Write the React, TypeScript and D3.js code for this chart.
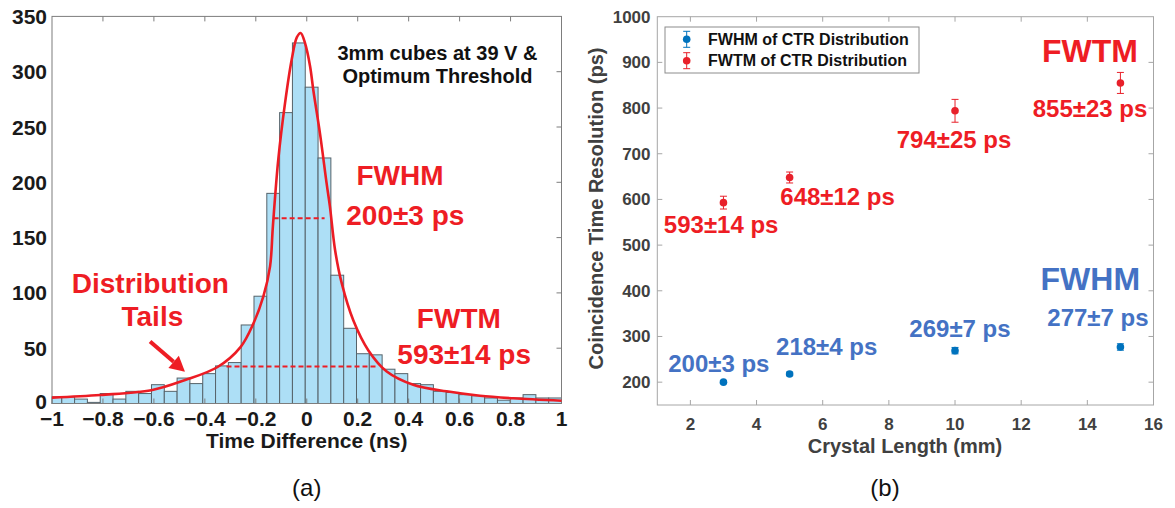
import React from "react";
import * as d3 from "d3";

// ---------- (a) timing histogram ----------
const histCounts = [
  6, 6, 4, 1, 9, 4, 11, 9, 17, 11, 23, 18, 27, 34, 37, 71, 97, 190, 263, 326,
  286, 222, 116, 68, 45, 44, 31, 27, 18, 17, 11, 10, 8, 7, 5, 3, 5, 8, 5, 5,
];
const binStart = -1.0119;
const binWidth = 0.0503;

// fitted distribution (time in ns, counts)
const fitCurve: [number, number][] = [
  [-1.0, 5.3], [-0.81, 7.7], [-0.61, 12], [-0.48, 21], [-0.35, 33],
  [-0.26, 51], [-0.21, 72], [-0.17, 97], [-0.144, 124], [-0.133, 160],
  [-0.112, 220], [-0.085, 272], [-0.059, 311], [-0.039, 331], [-0.024, 335],
  [-0.007, 326], [0.013, 305], [0.026, 283], [0.052, 244], [0.078, 199],
  [0.091, 178], [0.111, 139], [0.137, 109], [0.183, 75], [0.242, 48],
  [0.314, 29], [0.418, 17], [0.549, 11], [0.68, 7], [0.811, 4.7], [1.0, 2.5],
];

const xTicksA = [-1, -0.8, -0.6, -0.4, -0.2, 0, 0.2, 0.4, 0.6, 0.8, 1];
const yTicksA = [0, 50, 100, 150, 200, 250, 300, 350];

// full width at half / tenth maximum markers: [start, end, level]
const fwhmSpan = [-0.13, 0.07, 167.5];
const fwtmSpan = [-0.315, 0.278, 33.5];

// ---------- (b) CTR versus crystal length ----------
const crystalLengths = [3, 5, 10, 15];
const fwhmValues = [200, 218, 269, 277];
const fwhmErrors = [3, 4, 7, 7];
const fwtmValues = [593, 648, 794, 855];
const fwtmErrors = [14, 12, 25, 23];
const xTicksB = [2, 4, 6, 8, 10, 12, 14, 16];
const yTicksB = [200, 300, 400, 500, 600, 700, 800, 900, 1000];

// label anchors in data units (length, ps)
const fwtmLabelAt: [number, number][] = [[2.93, 526], [6.45, 588], [9.97, 713], [14.08, 780]];
const fwhmLabelAt: [number, number][] = [[2.86, 223], [6.12, 259], [10.15, 299], [14.32, 323]];

const FONT = "'Liberation Sans', Arial, Helvetica, sans-serif";
const RED = "#ee1d24";
const FIT_RED = "#ec1c24";
const BLUE_MARK = "#0072bd";
const BLUE_TEXT = "#4472c4";

export default function App() {
  const W = 1175;
  const H = 508;

  const xA = d3.scaleLinear().domain([-1, 1]).range([52, 561.5]);
  const yA = d3.scaleLinear().domain([0, 350]).range([403.5, 16.4]);
  const xB = d3.scaleLinear().domain([1, 16]).range([657.3, 1153.5]);
  const yB = d3.scaleLinear().domain([150, 1000]).range([405, 16.7]);

  const fmt = d3.format("~g");

  const bins = histCounts.map((c, i) => {
    const a = Math.max(-1, binStart + i * binWidth);
    const b = Math.min(1, binStart + (i + 1) * binWidth);
    return { a, b, c };
  });

  const fitPath = d3
    .line<[number, number]>()
    .x((d) => xA(d[0]))
    .y((d) => yA(d[1]))
    .curve(d3.curveCatmullRom.alpha(0.5))(fitCurve) as string;

  // annotation arrow for the tails
  const tail = [xA(-0.615), yA(56)];
  const tip = [xA(-0.478), yA(28.8)];
  const ang = Math.atan2(tip[1] - tail[1], tip[0] - tail[0]);
  const headLen = 15;
  const headW = 8;
  const base = [tip[0] - headLen * Math.cos(ang), tip[1] - headLen * Math.sin(ang)];
  const head = [
    tip,
    [base[0] + headW * Math.sin(ang), base[1] - headW * Math.cos(ang)],
    [base[0] - headW * Math.sin(ang), base[1] + headW * Math.cos(ang)],
  ];

  const axisGrayA = "#7d7d7d";
  const axisGrayB = "#a6a6a6";
  const tickLen = 5;

  const errMark = (cx: number, cy: number, lo: number, hi: number, color: string, key: string) => (
    <g key={key}>
      <line x1={cx} x2={cx} y1={lo} y2={hi} stroke={color} strokeWidth={1} />
      <line x1={cx - 3.5} x2={cx + 3.5} y1={lo} y2={lo} stroke={color} strokeWidth={1} />
      <line x1={cx - 3.5} x2={cx + 3.5} y1={hi} y2={hi} stroke={color} strokeWidth={1} />
      <circle cx={cx} cy={cy} r={3.8} fill={color} />
    </g>
  );

  return (
    <svg
      width={W}
      height={H}
      viewBox={`0 0 ${W} ${H}`}
      style={{ position: "absolute", left: 0, top: 0, background: "#fff" }}
      fontFamily={FONT}
    >
      {/* ===== panel (a) ===== */}
      <g>
        {bins.map((d, i) => (
          <rect
            key={i}
            x={xA(d.a)}
            y={yA(d.c)}
            width={xA(d.b) - xA(d.a)}
            height={yA(0) - yA(d.c)}
            fill="#addff6"
            stroke="#56636a"
            strokeWidth={1}
          />
        ))}

        {/* frame */}
        <rect
          x={xA(-1)}
          y={yA(350)}
          width={xA(1) - xA(-1)}
          height={yA(0) - yA(350)}
          fill="none"
          stroke={axisGrayA}
          strokeWidth={1}
        />
        {xTicksA.slice(1, -1).map((t) => (
          <g key={t}>
            <line x1={xA(t)} x2={xA(t)} y1={yA(350)} y2={yA(350) + tickLen} stroke={axisGrayA} />
            <line x1={xA(t)} x2={xA(t)} y1={yA(0)} y2={yA(0) - tickLen} stroke={axisGrayA} />
          </g>
        ))}
        {yTicksA.slice(1, -1).map((t) => (
          <line key={t} x1={xA(1)} x2={xA(1) - tickLen} y1={yA(t)} y2={yA(t)} stroke={axisGrayA} />
        ))}

        {/* dashed width markers */}
        <line
          x1={xA(fwhmSpan[0])}
          x2={xA(fwhmSpan[1])}
          y1={yA(fwhmSpan[2])}
          y2={yA(fwhmSpan[2])}
          stroke={RED}
          strokeWidth={2}
          strokeDasharray="5,3"
        />
        <line
          x1={xA(fwtmSpan[0])}
          x2={xA(fwtmSpan[1])}
          y1={yA(fwtmSpan[2])}
          y2={yA(fwtmSpan[2])}
          stroke={RED}
          strokeWidth={2}
          strokeDasharray="5,3"
        />

        {/* fit */}
        <path d={fitPath} fill="none" stroke={FIT_RED} strokeWidth={2.6} />

        {/* tick labels */}
        {xTicksA.map((t) => (
          <text
            key={t}
            x={xA(t)}
            y={426}
            textAnchor="middle"
            fontSize={21}
            fontWeight="bold"
            fill="#1a1a1a"
          >
            {fmt(t)}
          </text>
        ))}
        {yTicksA.map((t) => (
          <text
            key={t}
            x={47}
            y={yA(t) + (t === 0 ? 5 : 7.5)}
            textAnchor="end"
            fontSize={21}
            fontWeight="bold"
            fill="#1a1a1a"
          >
            {t}
          </text>
        ))}
        <text x={306.75} y={448} textAnchor="middle" fontSize={21} fontWeight="bold" fill="#1a1a1a">
          Time Difference (ns)
        </text>

        {/* annotations */}
        <text x={xA(0.513)} y={yA(310.6)} textAnchor="middle" fontSize={20} fontWeight="bold" fill="#111">
          3mm cubes at 39 V &amp;
        </text>
        <text x={xA(0.513)} y={yA(289.8)} textAnchor="middle" fontSize={20} fontWeight="bold" fill="#111">
          Optimum Threshold
        </text>
        <text x={xA(0.366)} y={yA(197.6)} textAnchor="middle" fontSize={28} fontWeight="bold" fill={RED}>
          FWHM
        </text>
        <text x={xA(0.387)} y={yA(161.4)} textAnchor="middle" fontSize={28} fontWeight="bold" fill={RED}>
          200±3 ps
        </text>
        <text x={xA(0.597)} y={yA(68.3)} textAnchor="middle" fontSize={28} fontWeight="bold" fill={RED}>
          FWTM
        </text>
        <text x={xA(0.618)} y={yA(35.7)} textAnchor="middle" fontSize={28} fontWeight="bold" fill={RED}>
          593±14 ps
        </text>
        <text x={xA(-0.614)} y={yA(99.9)} textAnchor="middle" fontSize={28} fontWeight="bold" fill={RED}>
          Distribution
        </text>
        <text x={xA(-0.606)} y={yA(70)} textAnchor="middle" fontSize={28} fontWeight="bold" fill={RED}>
          Tails
        </text>
        <line x1={tail[0]} y1={tail[1]} x2={base[0]} y2={base[1]} stroke={RED} strokeWidth={4} />
        <polygon points={head.map((p) => p.join(",")).join(" ")} fill={RED} />

        <text x={306.75} y={496} textAnchor="middle" fontSize={24} fill="#111">
          (a)
        </text>
      </g>

      {/* ===== panel (b) ===== */}
      <g>
        <rect
          x={xB(1)}
          y={yB(1000)}
          width={xB(16) - xB(1)}
          height={yB(150) - yB(1000)}
          fill="none"
          stroke={axisGrayB}
          strokeWidth={1}
        />
        {xTicksB.slice(0, -1).map((t) => (
          <g key={t}>
            <line x1={xB(t)} x2={xB(t)} y1={yB(1000)} y2={yB(1000) + tickLen} stroke={axisGrayB} />
            <line x1={xB(t)} x2={xB(t)} y1={yB(150)} y2={yB(150) - tickLen} stroke={axisGrayB} />
          </g>
        ))}
        {yTicksB.slice(0, -1).map((t) => (
          <g key={t}>
            <line x1={xB(1)} x2={xB(1) + tickLen} y1={yB(t)} y2={yB(t)} stroke={axisGrayB} />
            <line x1={xB(16)} x2={xB(16) - tickLen} y1={yB(t)} y2={yB(t)} stroke={axisGrayB} />
          </g>
        ))}

        {xTicksB.map((t) => (
          <text key={t} x={xB(t)} y={430} textAnchor="middle" fontSize={17} fontWeight="bold" fill="#404040">
            {t}
          </text>
        ))}
        {yTicksB.map((t) => (
          <text key={t} x={650.5} y={yB(t) + 6} textAnchor="end" fontSize={17} fontWeight="bold" fill="#404040">
            {t}
          </text>
        ))}
        <text x={905} y={453} textAnchor="middle" fontSize={20} fontWeight="bold" fill="#404040">
          Crystal Length (mm)
        </text>
        <text
          transform={`translate(603,208.5) rotate(-90)`}
          textAnchor="middle"
          fontSize={20}
          fontWeight="bold"
          fill="#404040"
        >
          Coincidence Time Resolution (ps)
        </text>

        {/* data with error bars */}
        {crystalLengths.map((L, i) =>
          errMark(
            xB(L),
            yB(fwtmValues[i]),
            yB(fwtmValues[i] - fwtmErrors[i]),
            yB(fwtmValues[i] + fwtmErrors[i]),
            "#e8202a",
            "t" + i
          )
        )}
        {crystalLengths.map((L, i) =>
          errMark(
            xB(L),
            yB(fwhmValues[i]),
            yB(fwhmValues[i] - fwhmErrors[i]),
            yB(fwhmValues[i] + fwhmErrors[i]),
            BLUE_MARK,
            "h" + i
          )
        )}

        {/* value labels */}
        {crystalLengths.map((L, i) => (
          <text
            key={"tl" + i}
            x={xB(fwtmLabelAt[i][0])}
            y={yB(fwtmLabelAt[i][1])}
            textAnchor="middle"
            fontSize={24}
            fontWeight="bold"
            fill={RED}
          >
            {`${fwtmValues[i]}±${fwtmErrors[i]} ps`}
          </text>
        ))}
        {crystalLengths.map((L, i) => (
          <text
            key={"hl" + i}
            x={xB(fwhmLabelAt[i][0])}
            y={yB(fwhmLabelAt[i][1])}
            textAnchor="middle"
            fontSize={24}
            fontWeight="bold"
            fill={BLUE_TEXT}
          >
            {`${fwhmValues[i]}±${fwhmErrors[i]} ps`}
          </text>
        ))}
        <text x={xB(14.08)} y={yB(901.5)} textAnchor="middle" fontSize={32} fontWeight="bold" fill={RED}>
          FWTM
        </text>
        <text x={xB(14.09)} y={yB(401.7)} textAnchor="middle" fontSize={32} fontWeight="bold" fill={BLUE_TEXT}>
          FWHM
        </text>

        {/* legend */}
        <rect x={665} y={27} width={254} height={46} fill="#fff" stroke="#8c8c8c" strokeWidth={1} />
        {errMark(686.7, 39.3, 47.3, 31.3, BLUE_MARK, "lg1")}
        {errMark(686.7, 60.7, 68.7, 52.7, "#e8202a", "lg2")}
        <text x={708} y={45} fontSize={16} fontWeight="bold" fill="#111">
          FWHM of CTR Distribution
        </text>
        <text x={708} y={66.4} fontSize={16} fontWeight="bold" fill="#111">
          FWTM of CTR Distribution
        </text>

        <text x={885} y={496} textAnchor="middle" fontSize={24} fill="#111">
          (b)
        </text>
      </g>
    </svg>
  );
}
